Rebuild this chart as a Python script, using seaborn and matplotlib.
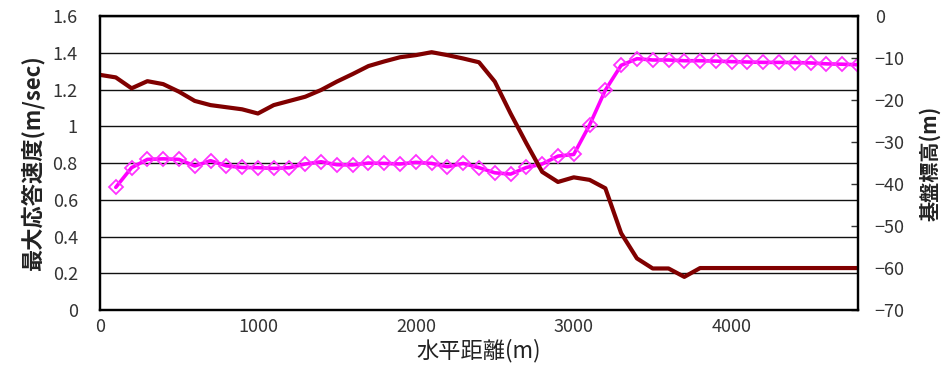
import numpy as np
import pandas as pd
import matplotlib
matplotlib.use("Agg")
import matplotlib.pyplot as plt
from matplotlib.ticker import FuncFormatter, MultipleLocator
import seaborn as sns

# style first, fonts after (set_style resets font.family)
sns.set_style("white")
plt.rcParams["font.family"] = ["Noto Sans CJK JP", "DejaVu Sans"]

# horizontal distance (m)
dist_elev = list(range(0, 4900, 100))
dist_vel = list(range(100, 4900, 100))

# max response velocity (m/sec)
velocity = [0.668, 0.775, 0.82, 0.823, 0.82, 0.784, 0.813, 0.785, 0.776, 0.775,
            0.771, 0.775, 0.795, 0.807, 0.791, 0.79, 0.80, 0.798, 0.795, 0.804,
            0.798, 0.780, 0.798, 0.775, 0.747, 0.74, 0.776, 0.795, 0.838, 0.847,
            1.007, 1.197, 1.332, 1.368, 1.361, 1.361, 1.357, 1.357, 1.355, 1.352,
            1.35, 1.348, 1.348, 1.347, 1.345, 1.34, 1.338, 1.335]

# bedrock elevation (m)
elevation = [-14.0, -14.6, -17.2, -15.5, -16.2, -18.0, -20.2, -21.2, -21.7, -22.2,
             -23.2, -21.2, -20.2, -19.2, -17.6, -15.6, -13.8, -11.9, -10.8, -9.8,
             -9.3, -8.6, -9.3, -10.1, -11.0, -15.6, -23.2, -30.3, -37.1, -39.5,
             -38.4, -39.0, -41.0, -51.7, -57.7, -60.1, -60.1, -62.1, -60.0, -60.0,
             -60.0, -60.0, -60.0, -60.0, -60.0, -60.0, -60.0, -60.0, -60.0]

df_vel = pd.DataFrame({"dist": dist_vel, "vel": velocity})
df_elev = pd.DataFrame({"dist": dist_elev, "elev": elevation})

fig = plt.figure(figsize=(9.46, 3.74), dpi=100)
ax = fig.add_axes([0.1057, 0.171, 0.8013, 0.786])
ax2 = ax.twinx()

sns.lineplot(data=df_vel, x="dist", y="vel", ax=ax, color="#FF00FF", lw=2.6,
             marker="D", markersize=7, markerfacecolor="none",
             markeredgecolor="#FF33FF", markeredgewidth=1.3, zorder=3)
sns.lineplot(data=df_elev, x="dist", y="elev", ax=ax2, color="#800000", lw=3.0)

ax.set_xlim(0, 4800)
ax.set_ylim(0, 1.6)
ax2.set_ylim(-70, 0)
ax.xaxis.set_major_locator(MultipleLocator(1000))
ax.yaxis.set_major_locator(MultipleLocator(0.2))
ax2.yaxis.set_major_locator(MultipleLocator(10))
ax.yaxis.set_major_formatter(FuncFormatter(lambda v, p: "%g" % round(v, 2)))

ax.grid(axis="y", color="#111111", lw=1.0)
ax.set_axisbelow(True)

for a in (ax, ax2):
    for s in a.spines.values():
        s.set_color("black")
        s.set_linewidth(1.6)

ax.tick_params(axis="x", direction="in", length=5, width=1, colors="#333333",
               labelsize=13, pad=6)
ax.tick_params(axis="y", direction="in", length=0, colors="#333333",
               labelsize=13, pad=16)
ax2.tick_params(axis="y", direction="in", length=5, width=1, colors="#333333",
                labelsize=13, pad=12)

ax.set_xlabel("水平距離(m)", fontsize=16, color="#222222", labelpad=2)
ax.set_ylabel("最大応答速度(m/sec)", fontsize=16, fontweight="bold",
              color="#222222", labelpad=6)
ax2.set_ylabel("基盤標高(m)", fontsize=14.5, fontweight="bold",
               color="#222222", labelpad=10)

fig.savefig("out.png", dpi=100)
